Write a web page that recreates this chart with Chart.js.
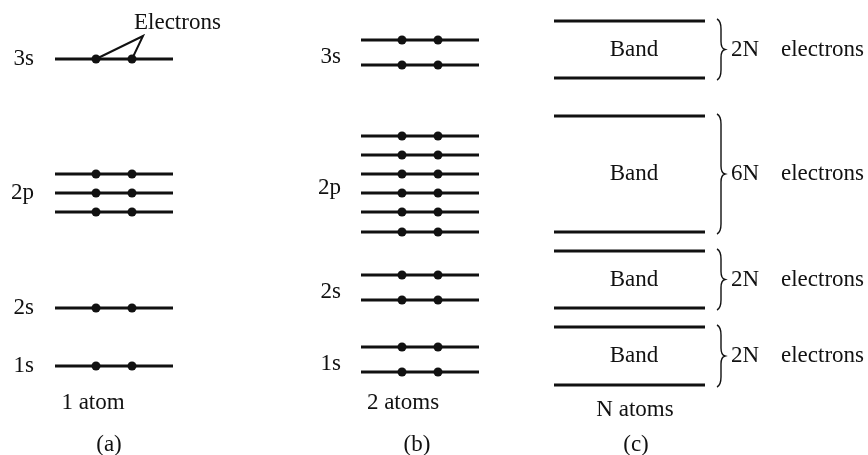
<!DOCTYPE html>
<html lang="en">
<head>
  <meta charset="UTF-8" />
  <title>Energy levels to bands</title>
  <script src="https://cdn.jsdelivr.net/npm/chart.js"></script>
  <style>
    html, body { margin: 0; padding: 0; background: #fff; }
    #chart { display: block; }
  </style>
</head>
<body>
  <canvas id="chart" width="868" height="455"></canvas>
  <script>
    // energies (same units as the drawing's vertical axis)
    const shellNames = ['1s', '2s', '2p', '3s'];
    const oneAtomLevels = [[89], [147], [243, 262, 281], [396]];
    const twoAtomLevels = [[83, 108], [155, 180], [223, 243, 262, 281, 300, 319], [390, 415]];
    const bandBottoms = [70, 147, 223, 377];
    const bandTops = [128, 204, 339, 434];
    const bandElectrons = ['2N', '2N', '6N', '2N'];
    const columnLabels = ['1 atom', '2 atoms', 'N atoms'];
    const panelLetters = ['(a)', '(b)', '(c)'];

    const ink = '#111';
    const serif = '"Liberation Serif", "DejaVu Serif", serif';

    // column geometry (x units)
    const colA = { x0: 55, x1: 173, dots: [96, 132], labelX: 34, mid: 100 };
    const colB = { x0: 361, x1: 479, dots: [402, 438], labelX: 341, mid: 410 };
    const colC = { x0: 554, x1: 705, mid: 634 };

    function levelSegments(col, groups) {
      const pts = [];
      groups.forEach(g => g.forEach(e => {
        pts.push({ x: col.x0, y: e }, { x: col.x1, y: e }, { x: col.x1, y: null });
      }));
      return pts;
    }
    function electronDots(col, groups) {
      const pts = [];
      groups.forEach(g => g.forEach(e => col.dots.forEach(x => pts.push({ x: x, y: e }))));
      return pts;
    }
    function bandSegments() {
      const pts = [];
      bandBottoms.forEach((b, i) => {
        [b, bandTops[i]].forEach(e => pts.push({ x: colC.x0, y: e }, { x: colC.x1, y: e }, { x: colC.x1, y: null }));
      });
      return pts;
    }

    // pointer from "Electrons" label to the 3s electrons of one atom
    const top3s = oneAtomLevels[3][0];
    const pointer = [
      { x: colA.dots[0], y: top3s }, { x: 143, y: 419 }, { x: colA.dots[1], y: top3s }
    ];

    const lineDs = (data, w) => ({
      data: data, showLine: true, borderColor: ink, borderWidth: w,
      pointRadius: 0, spanGaps: false, clip: false, order: 2
    });

    const textPlugin = {
      id: 'diagramText',
      afterDatasetsDraw(chart) {
        const c = chart.ctx, xs = chart.scales.x, ys = chart.scales.y;
        const px = v => xs.getPixelForValue(v), py = v => ys.getPixelForValue(v);
        const mean = a => a.reduce((s, v) => s + v, 0) / a.length;
        c.save();
        c.fillStyle = ink;
        c.font = '23px ' + serif;
        c.textBaseline = 'middle';

        // shell labels
        c.textAlign = 'right';
        shellNames.forEach((n, i) => {
          c.fillText(n, px(colA.labelX), py(mean(oneAtomLevels[i])));
          c.fillText(n, px(colB.labelX), py(mean(twoAtomLevels[i]) - 4));
        });

        c.textAlign = 'left';
        c.fillText('Electrons', px(134), py(432));

        // bands
        bandBottoms.forEach((b, i) => {
          const t = bandTops[i];
          const ym = py((b + t) / 2);
          c.textAlign = 'center';
          c.fillText('Band', px(colC.mid), ym);
          c.textAlign = 'left';
          c.fillText(bandElectrons[i], px(731), ym);
          c.fillText('electrons', px(781), ym);
          drawBrace(c, px(717), py(t) - 2, py(b) + 2);
        });

        // column captions
        c.textAlign = 'center';
        c.fillText(columnLabels[0], px(colA.mid - 7), py(52));
        c.fillText(columnLabels[1], px(colB.mid - 7), py(52));
        c.fillText(columnLabels[2], px(colC.mid + 1), py(45));
        c.fillText(panelLetters[0], px(109), py(10));
        c.fillText(panelLetters[1], px(417), py(10));
        c.fillText(panelLetters[2], px(636), py(10));
        c.restore();
      }
    };

    function drawBrace(c, x, yTop, yBot) {
      const ym = (yTop + yBot) / 2, w = 4;
      c.save();
      c.strokeStyle = ink;
      c.lineWidth = 1.4;
      c.beginPath();
      c.moveTo(x, yTop);
      c.quadraticCurveTo(x + w, yTop + 2, x + w, yTop + 10);
      c.lineTo(x + w, ym - 8);
      c.quadraticCurveTo(x + w, ym - 1, x + w + 4, ym);
      c.quadraticCurveTo(x + w, ym + 1, x + w, ym + 8);
      c.lineTo(x + w, yBot - 10);
      c.quadraticCurveTo(x + w, yBot - 2, x, yBot);
      c.stroke();
      c.restore();
    }

    new Chart(document.getElementById('chart'), {
      type: 'scatter',
      data: {
        datasets: [
          lineDs(levelSegments(colA, oneAtomLevels), 3),
          lineDs(levelSegments(colB, twoAtomLevels), 3),
          lineDs(bandSegments(), 3),
          lineDs(pointer, 2),
          {
            data: electronDots(colA, oneAtomLevels).concat(electronDots(colB, twoAtomLevels)),
            showLine: false, pointRadius: 4.5, pointBackgroundColor: ink,
            pointBorderWidth: 0, clip: false, order: 1
          }
        ]
      },
      options: {
        responsive: false,
        animation: false,
        layout: { padding: 0, autoPadding: false },
        plugins: { legend: { display: false }, tooltip: { enabled: false } },
        events: [],
        scales: {
          x: { type: 'linear', min: 0, max: 868, display: false },
          y: { type: 'linear', min: 0, max: 455, display: false }
        }
      },
      plugins: [textPlugin]
    });
  </script>
</body>
</html>
